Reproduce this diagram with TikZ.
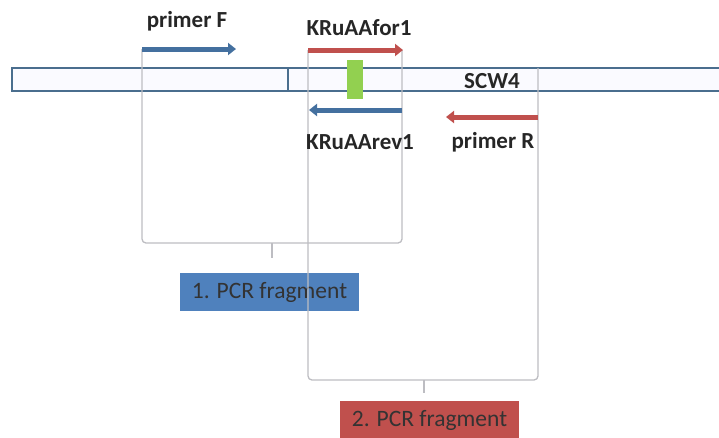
\documentclass[tikz,border=0pt]{standalone}
\usepackage{fontspec}
\setmainfont{Carlito}
\usetikzlibrary{arrows.meta}
\definecolor{barline}{HTML}{4A6E8E}
\definecolor{primblue}{HTML}{44709F}
\definecolor{primred}{HTML}{C0504D}
\definecolor{fragblue}{HTML}{4F81BD}
\definecolor{fragred}{HTML}{C0504D}
\definecolor{markgreen}{HTML}{92D050}
\definecolor{brace}{HTML}{BDBDC2}

\begin{document}
\begin{tikzpicture}[x=1pt,y=-1pt,
  lab/.style={font=\bfseries\fontsize{23}{25}\selectfont,text=black!85,inner sep=0},
  frag/.style={font=\fontsize{23.5}{25}\selectfont,text=black!80,minimum width=179,minimum height=38,inner sep=0},
  primer/.style={line width=5pt,-{Triangle[length=8pt,width=12pt]}},
  bracket/.style={brace,line width=1.3pt,rounded corners=4pt}]
\useasboundingbox (0,0) rectangle (719,437);
% sequence bar
\draw[barline,line width=1.6pt,fill=blue!2] (12,68) rectangle (740,91);
\draw[barline,line width=1.6pt] (288,68) -- (288,91);
% fragment boxes
\node[frag,fill=fragblue] (frag1) at (269.5,292) {1. PCR fragment};
\node[frag,fill=fragred] (frag2) at (429.5,420) {2. PCR fragment};
% brackets
\draw[bracket] (142,49) -- (142,243) -- (402,243) -- (402,50);
\draw[brace,line width=1.3pt] (272,243) -- (272,258);
\draw[bracket] (308,50) -- (308,380) -- (538,380) -- (538,68);
\draw[brace,line width=1.3pt] (424,380) -- (424,393);
% target site
\fill[markgreen] (347,60) rectangle (363,99);
% primers
\coordinate (fS) at (142,49);
\coordinate (fE) at (236,49);
\coordinate (kfS) at (308,50);
\coordinate (kfE) at (403,50);
\coordinate (krS) at (402,110);
\coordinate (krE) at (309,110);
\coordinate (rS) at (538,117);
\coordinate (rE) at (446,117);
\draw[primer,primblue] (fS) -- (fE);
\draw[primer,primred] (kfS) -- (kfE);
\draw[primer,primblue] (krS) -- (krE);
\draw[primer,primred] (rS) -- (rE);
% labels
\node[lab] (primF) at (187,21) {primer F};
\node[lab] (kfor) at (359,28) {KRuAAfor1};
\node[lab] (krev) at (360,142) {KRuAArev1};
\node[lab] (primR) at (493,142) {primer R};
\node[lab] (scw) at (492,81) {SCW4};
\end{tikzpicture}
\end{document}
